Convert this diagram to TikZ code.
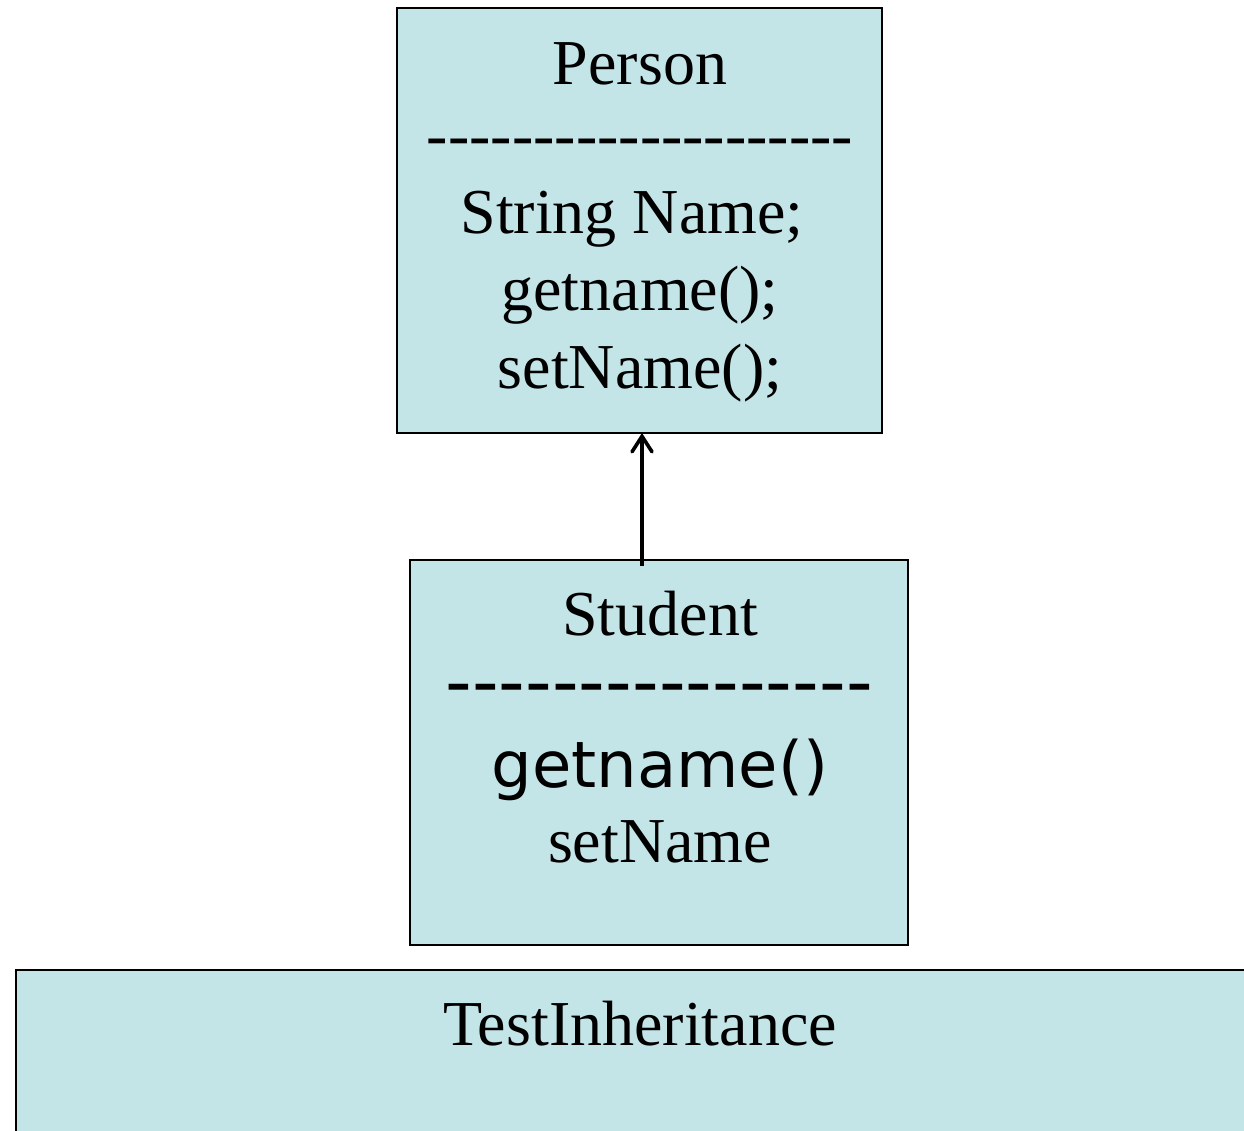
\documentclass[tikz,border=0pt]{standalone}
\usepackage{fontspec}
\setmainfont{Liberation Serif}
\newfontfamily\uisans{DejaVu Sans}
\definecolor{classfill}{RGB}{196,229,232}
\tikzset{
  classbox/.style={draw=black, line width=1.6pt, fill=classfill, inner sep=0pt},
  serifline/.style={anchor=base, inner sep=0pt, font=\fontsize{64}{77}\selectfont},
  sansline/.style={anchor=base, inner sep=0pt, font=\uisans\fontsize{64}{77}\selectfont},
  inherits/.style={line width=3.2pt},
  openhead/.style={line width=3.6pt, line cap=round, line join=miter}
}
\begin{document}
\begin{tikzpicture}[x=1pt,y=-1pt]
\useasboundingbox (0,0) rectangle (1244,1130);
\clip (0,0) rectangle (1244,1130);

% Person class
\node[classbox, minimum width=485pt, minimum height=425pt] (person) at (639.5,220.5) {};
\node[serifline] (pname) at (640,84) {Person};
\node[serifline] (psep) at (640,156) {-{}-{}-{}-{}-{}-{}-{}-{}-{}-{}-{}-{}-{}-{}-{}-{}-{}-{}-{}-};
\node[serifline] (pattr) at (632,233) {String Name;};
\node[serifline] (pget) at (640,310) {getname();};
\node[serifline] (pset) at (640,388) {setName();};

% Student class
\node[classbox, minimum width=498pt, minimum height=385pt] (student) at (659,752.5) {};
\node[serifline] (sname) at (660,635) {Student};
\node[sansline, font=\uisans\fontsize{74}{80}\selectfont] (ssep) at (659,707) {-{}-{}-{}-{}-{}-{}-{}-{}-{}-{}-{}-{}-{}-{}-{}-};
\node[sansline] (sget) at (660,787) {getname()};
\node[serifline] (sset) at (660,862) {setName};

% TestInheritance class (runs past the right and bottom edges)
\draw[classbox] (16,970) rectangle (1260,1150);
\node[serifline] (tname) at (640,1045) {TestInheritance};

% Inheritance arrow from Student up to Person, with an open V head
\coordinate (tail) at (642,566);
\coordinate (tip) at (tail |- person.south);
\draw[inherits] (tail) -- ([yshift=-2pt]tip);
\draw[openhead] ([xshift=-10pt,yshift=-18pt]tip) -- ([yshift=-2.5pt]tip) -- ([xshift=10pt,yshift=-18pt]tip);
\end{tikzpicture}
\end{document}
